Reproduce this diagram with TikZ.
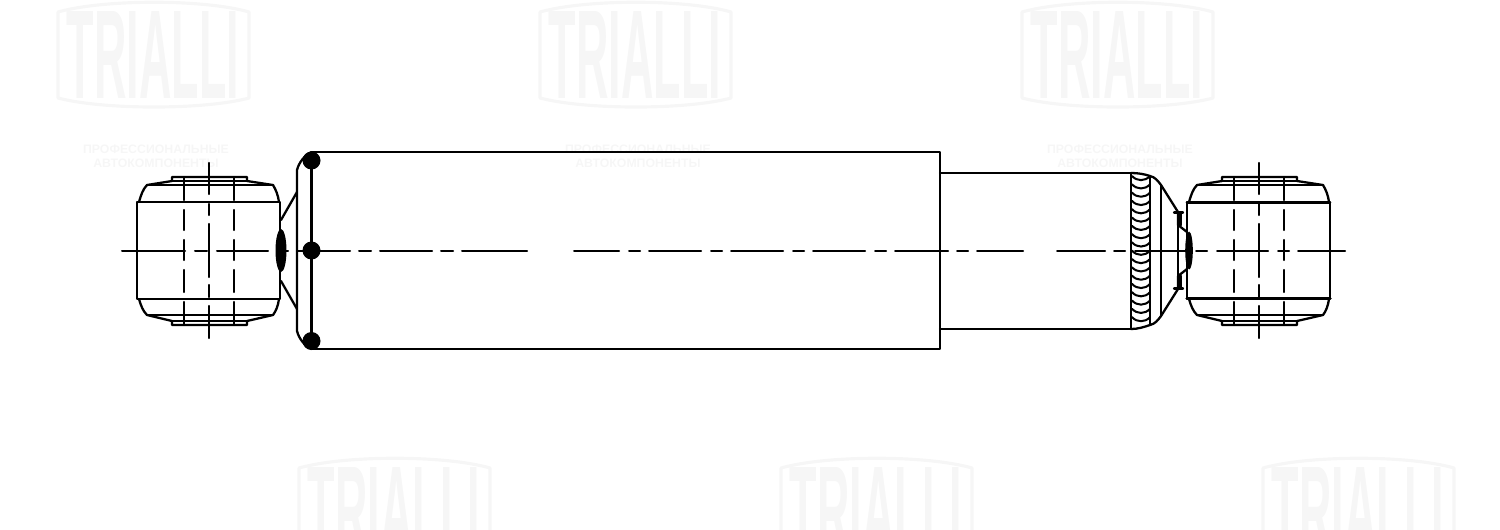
\documentclass[tikz,border=0pt]{standalone}
\usepackage{fontspec}
\setmainfont{Liberation Sans}
\definecolor{wmgray}{HTML}{F6F6F6}
\tikzset{
	part/.style={line width=1.3pt},
	thin part/.style={line width=1.15pt},
	logotext/.style={text=wmgray,font=\bfseries\fontsize{72}{72}\selectfont,xscale=0.355,inner sep=0pt},
	wmtext/.style={text=wmgray,font=\bfseries\fontsize{7}{8}\selectfont,inner sep=0pt,align=center},
}
\begin{document}
\begin{tikzpicture}[x=0.02cm,y=-0.02cm,line join=round,line cap=round]
	\useasboundingbox (0,0) rectangle (1500,529);
	\begin{scope}
		\clip (0,0) rectangle (1500,529);
		% watermarks
		\foreach \i/\lx/\ly in {1/154/0,2/636/0,3/1118/0,4/395/456,5/877/456,6/1359/456}{
			\begin{scope}[shift={(\lx,\ly)}]
				\draw[wmgray,line width=1.8pt] (-96,12) .. controls (-50,-1) and (50,-1) .. (95,12)
				-- (95,98) .. controls (50,110) and (-50,110) .. (-96,98) -- cycle;
				\node[logotext] (logo\i) at (-1,55) {TRIALLI};
			\end{scope}
		}
		\foreach \i/\lx in {1/156,2/638,3/1120}{
			\node[wmtext] (slogan\i) at (\lx,156) {ПРОФЕССИОНАЛЬНЫЕ\\АВТОКОМПОНЕНТЫ};
		}
	\end{scope}
	% bushes
	\foreach \ex in {0,1050}{
		\begin{scope}[xshift=\ex*0.02cm]
			\draw[part] (137,202) rectangle (280,299);
			\draw[part] (139,202) .. controls (141,195) and (143,189) .. (147,185) -- (172,181) -- (172,177) -- (247,177) -- (247,181) -- (273,185) .. controls (276,190) and (278,195) .. (279,202);
			\draw[part] (139,299) .. controls (141,306) and (143,311) .. (147,315) -- (172,321) -- (172,325) -- (247,325) -- (247,321) -- (273,315) .. controls (276,311) and (278,306) .. (279,299);
			\draw[part] (147,185) -- (273,185) (172,181) -- (247,181);
			\draw[part] (147,315) -- (273,315) (172,321) -- (247,321);
			\foreach \a/\b in {177/200,210/230,240/260,270/292,302/325}{
				\draw[part] (184,\a) -- (184,\b);
				\draw[part] (234,\a) -- (234,\b);
			}
			\foreach \a/\b in {163/194,204/215,224/277,285/297,306/338}{
				\draw[part] (209,\a) -- (209,\b);
			}
		\end{scope}
	}
	\draw[line width=1.6pt] (1187,202.5) -- (1330,202.5);
	\draw[line width=2pt] (1187,298.5) -- (1330,298.5);
	% axis
	\foreach \a/\b in {122/185,195/207,217/268,283/288,297/350,359/371,380/432,441/453,462/527,574/619,629/640,649/701,711/722,731/783,793/804,813/865,875/886,895/948,957/968,977/1023,1057/1105,1114/1125,1135/1190,1196/1207,1217/1268,1278/1289,1298/1345}{
		\draw[thin part] (\a,250.5) -- (\b,250.5);
	}
	% cylinder
	\draw[part] (311.5,152) rectangle (940,349);
	\draw[part] (940,173) -- (1131,173) (940,329) -- (1131,329);
	\draw[part] (311.5,152) .. controls (305,155) and (299,162) .. (297,170) -- (297,331) .. controls (299,339) and (305,346) .. (311.5,349);
	\draw[part] (281,220) -- (297,192) (281,281) -- (297,309);
	\fill (281,250.5) ellipse [x radius=5.5,y radius=21.5];
	\foreach \i/\dy in {top/160.5,mid/250.5,bot/341}{
		\fill (311.5,\dy) circle [radius=9];
	}
	% rod end
	\draw[part] (1131,173) .. controls (1138,173) and (1144,174) .. (1150,176) .. controls (1155,177) and (1158,181) .. (1161,185) -- (1178,212) -- (1178,225) -- (1187,232);
	\draw[part] (1131,329) .. controls (1138,329) and (1144,327) .. (1150,325) .. controls (1155,324) and (1158,320) .. (1161,316) -- (1178,289) -- (1178,276) -- (1187,269);
	\draw[part] (1131,173) -- (1131,329) (1150,176) -- (1150,325) (1161,185) -- (1161,316) (1178,212) -- (1178,289);
	\draw[part] (1174,212.5) -- (1183,212.5) (1174,288.5) -- (1183,288.5);
	\draw[line width=1.8pt] (1180,213) -- (1180,225) (1180,276) -- (1180,288);
	\fill (1189,250.5) ellipse [x radius=3.8,y radius=19];
	\foreach \wy in {176,184.3,...,321}{
		\draw[thin part] (1132,\wy) .. controls (1137,\wy+5.5) and (1145,\wy+5.5) .. (1150,\wy);
	}
\end{tikzpicture}
\end{document}
